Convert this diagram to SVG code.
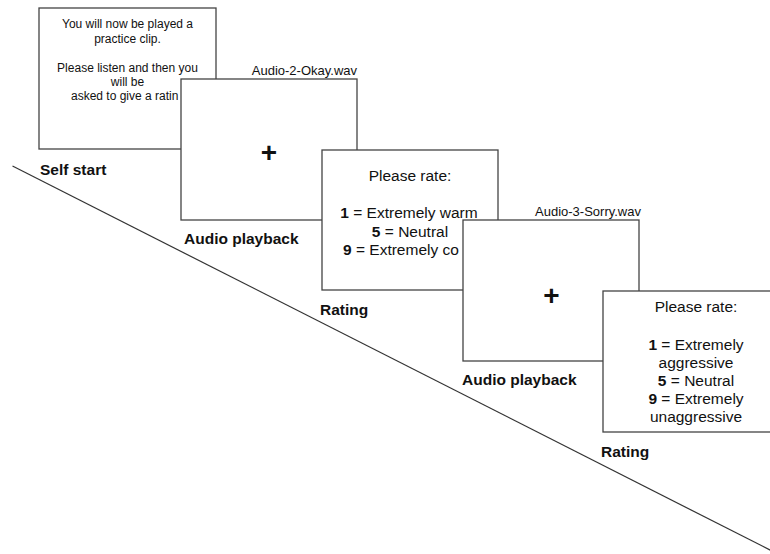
<svg xmlns="http://www.w3.org/2000/svg" width="770" height="554" viewBox="0 0 770 554">
<style>
.box{fill:#fff;stroke:#444;stroke-width:1.3}
.t{font-family:"Liberation Sans",Arial,sans-serif;fill:#111}
.s{font-size:12px}
.r{font-size:15.5px}
.f{font-size:13px}
.lbl{font-size:15.5px;font-weight:bold}
.plus{font-size:28px;font-weight:bold}
b{font-weight:bold}
</style>
<rect width="770" height="554" fill="#fff"/>
<g id="connectors">
<line x1="12.5" y1="166" x2="772" y2="551" stroke="#333" stroke-width="1.2"/>
</g>
<g id="self-start">
<rect class="box" x="39" y="8" width="177" height="141"/>
<text class="t s" x="127.5" y="28" text-anchor="middle">You will now be played a</text>
<text class="t s" x="127.5" y="43" text-anchor="middle">practice clip.</text>
<text class="t s" x="127.5" y="72" text-anchor="middle">Please listen and then you</text>
<text class="t s" x="127.5" y="86" text-anchor="middle">will be</text>
<text class="t s" x="71" y="100">asked to give a ratin</text>
<text class="t lbl" x="40" y="175">Self start</text>
</g>
<g id="audio-playback-1">
<rect class="box" x="181" y="79" width="176" height="141"/>
<text class="t f" x="357" y="75" text-anchor="end">Audio-2-Okay.wav</text>
<text class="t plus" x="269" y="162" text-anchor="middle">+</text>
<text class="t lbl" x="184" y="244">Audio playback</text>
</g>
<g id="rating-1">
<rect class="box" x="322" y="150" width="176" height="140"/>
<text class="t r" x="410" y="181" text-anchor="middle">Please rate:</text>
<text class="t r" x="409" y="218" text-anchor="middle"><tspan font-weight="bold">1</tspan> = Extremely warm</text>
<text class="t r" x="410" y="237" text-anchor="middle"><tspan font-weight="bold">5</tspan> = Neutral</text>
<text class="t r" x="343" y="255"><tspan font-weight="bold">9</tspan> = Extremely co</text>
<text class="t lbl" x="320" y="315">Rating</text>
</g>
<g id="audio-playback-2">
<rect class="box" x="463" y="220" width="176" height="141"/>
<text class="t f" x="641" y="216" text-anchor="end">Audio-3-Sorry.wav</text>
<text class="t plus" x="551.5" y="304.5" text-anchor="middle">+</text>
<text class="t lbl" x="462" y="385">Audio playback</text>
</g>
<g id="rating-2">
<rect class="box" x="603" y="291" width="190" height="141"/>
<text class="t r" x="696" y="312" text-anchor="middle">Please rate:</text>
<text class="t r" x="696" y="350" text-anchor="middle"><tspan font-weight="bold">1</tspan> = Extremely</text>
<text class="t r" x="696" y="368" text-anchor="middle">aggressive</text>
<text class="t r" x="696" y="386" text-anchor="middle"><tspan font-weight="bold">5</tspan> = Neutral</text>
<text class="t r" x="696" y="404" text-anchor="middle"><tspan font-weight="bold">9</tspan> = Extremely</text>
<text class="t r" x="696" y="422" text-anchor="middle">unaggressive</text>
<text class="t lbl" x="601" y="457">Rating</text>
</g>
</svg>
